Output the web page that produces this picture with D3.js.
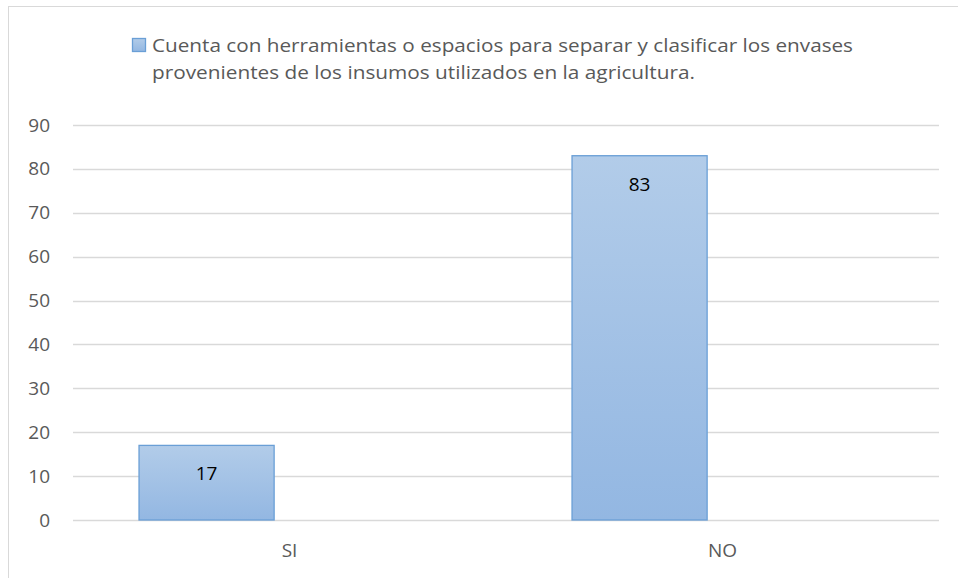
<!DOCTYPE html>
<html>
<head>
<meta charset="utf-8">
<script src="https://cdn.jsdelivr.net/npm/d3@7"></script>
<style>
  html, body { margin: 0; padding: 0; background: #fff; }
  svg { display: block; }
</style>
</head>
<body>
<svg id="chart" width="958" height="578"></svg>
<script>
const categories = ["SI", "NO"];
const values = [17, 83];
const yTicks = [0, 10, 20, 30, 40, 50, 60, 70, 80, 90];
const legendLines = [
  "Cuenta con herramientas o espacios para separar y clasificar los envases",
  "provenientes de los insumos utilizados en la agricultura."
];

const W = 958, H = 578;
const margin = { left: 73, right: 19, top: 125, bottom: 58 };
const svg = d3.select("#chart");
const FONT = "'Open Sans', Lato, sans-serif";
const grey = "#595959";

// chart border (right/bottom edges fall outside the view)
svg.append("rect")
  .attr("x", 8.5).attr("y", 6.5)
  .attr("width", W + 10).attr("height", H + 10)
  .attr("fill", "none").attr("stroke", "#d9d9d9").attr("stroke-width", 1);

const x = d3.scaleBand().domain(categories).range([margin.left, W - margin.right]).padding(0);
const y = d3.scaleLinear().domain([0, 90]).range([H - margin.bottom, margin.top]);

// gradient
const defs = svg.append("defs");
const grad = defs.append("linearGradient").attr("id", "barGrad")
  .attr("x1", 0).attr("y1", 0).attr("x2", 0).attr("y2", 1);
grad.append("stop").attr("offset", "0%").attr("stop-color", "#b2cce9");
grad.append("stop").attr("offset", "100%").attr("stop-color", "#93b7e2");

// gridlines
svg.append("g")
  .selectAll("line").data(yTicks).join("line")
  .attr("x1", margin.left).attr("x2", W - margin.right)
  .attr("y1", d => Math.round(y(d)) + 0.5).attr("y2", d => Math.round(y(d)) + 0.5)
  .attr("stroke", "#d9d9d9").attr("stroke-width", 1.3);

// y axis labels
const yAxis = d3.axisLeft(y).tickValues(yTicks).tickSize(0).tickPadding(0);
const gy = svg.append("g").attr("transform", `translate(50,0)`).call(yAxis);
gy.select(".domain").remove();
gy.selectAll("text").attr("font-family", FONT).attr("font-size", 19).attr("fill", grey);

// x axis labels
const xAxis = d3.axisBottom(x).tickSize(0).tickPadding(0);
const gx = svg.append("g").attr("transform", `translate(0,${y(0)})`).call(xAxis);
gx.select(".domain").remove();
gx.selectAll("text").attr("font-family", FONT).attr("font-size", 19).attr("fill", grey)
  .attr("dy", null).attr("y", 37);

// bars (first slot of a two-slot cluster)
const bw = x.bandwidth();
const barOff = bw * 0.1525, barW = bw * 0.312;
svg.append("g").selectAll("rect").data(categories).join("rect")
  .attr("x", (d) => x(d) + barOff)
  .attr("y", (d, i) => y(values[i]))
  .attr("width", barW)
  .attr("height", (d, i) => y(0) - y(values[i]))
  .attr("fill", "url(#barGrad)")
  .attr("stroke", "#6a9fd6").attr("stroke-width", 1.3);

// data labels
svg.append("g").selectAll("text").data(categories).join("text")
  .attr("x", d => x(d) + barOff + barW / 2)
  .attr("y", (d, i) => y(values[i]) + 35)
  .attr("text-anchor", "middle")
  .attr("font-family", FONT).attr("font-size", 19).attr("fill", "#000")
  .text((d, i) => values[i]);

// legend
const legendWidths = [701, 543];
svg.append("rect").attr("x", 132.5).attr("y", 38.5).attr("width", 13).attr("height", 13)
  .attr("fill", "url(#barGrad)").attr("stroke", "#6a9fd6").attr("stroke-width", 1.3);
svg.append("g").selectAll("text").data(legendLines).join("text")
  .attr("x", 152).attr("y", (d, i) => 52 + i * 27)
  .attr("font-family", FONT).attr("font-size", 19).attr("fill", grey)
  .attr("textLength", (d, i) => legendWidths[i]).attr("lengthAdjust", "spacingAndGlyphs")
  .text(d => d);
</script>
</body>
</html>
